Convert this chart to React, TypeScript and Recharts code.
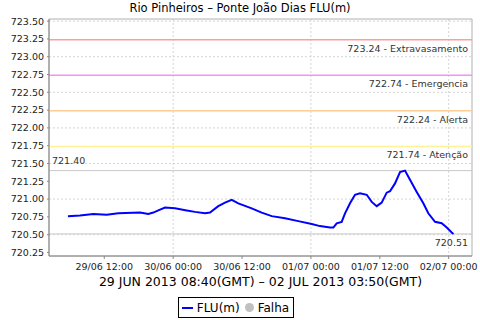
import { LineChart, Line, XAxis, YAxis, CartesianGrid, ReferenceLine, ReferenceArea, Legend } from "recharts";

// hours counted from 29/06 00:00 local time (GMT-3)
const hours = [
  5.67, 7.77, 10.09, 12.42, 14.44, 18.22, 19.67, 20.54, 21.41, 22.58, 24.32, 26.36, 27.81, 29.55, 30.42,
  31.86, 33.03, 34.2, 35.35, 37.68, 39.43, 41.17, 43.48, 45.8, 48.14, 49.58, 51.32, 51.9, 52.49, 53.36,
  53.94, 54.81, 55.68, 56.55, 57.72, 58.59, 59.46, 60.33, 61.2, 61.78, 62.65, 63.52, 64.39, 65.26, 66.43,
  67.58, 68.45, 69.62, 70.78, 71.66, 72.53, 72.83,
];
const levels = [
  720.76, 720.77, 720.79, 720.78, 720.8, 720.81, 720.79, 720.81, 720.84, 720.88, 720.87, 720.84, 720.82, 720.8, 720.81,
  720.9, 720.95, 720.99, 720.94, 720.87, 720.81, 720.76, 720.73, 720.69, 720.65, 720.62, 720.6, 720.6, 720.66, 720.68,
  720.8, 720.94, 721.06, 721.08, 721.06, 720.96, 720.9, 720.95, 721.09, 721.11, 721.22, 721.38, 721.4, 721.27, 721.1,
  720.94, 720.8, 720.68, 720.66, 720.6, 720.53, 720.51,
];

const xTicks = [12, 24, 36, 48, 60, 72];
const xTickLabels = ["29/06 12:00", "30/06 00:00", "30/06 12:00", "01/07 00:00", "01/07 12:00", "02/07 00:00"];
const yTicks = [720.25, 720.5, 720.75, 721, 721.25, 721.5, 721.75, 722, 722.25, 722.5, 722.75, 723, 723.25, 723.5];

const thresholdValues = [723.24, 722.74, 722.24, 721.74];
const thresholdNames = ["Extravasamento", "Emergencia", "Alerta", "Atenção"];
const thresholdColors = ["#ff9c9c", "#f294f2", "#ffcc94", "#fff294"];

const maxLevel = 721.4;
const lastLevel = 720.51;

const xDomain: [number, number] = [2.37, 76.06];
const yDomain: [number, number] = [720.2, 723.53];

const FONT = "'DejaVu Sans', sans-serif";

const data = hours.map((h, i) => ({ h, flu: levels[i] }));

function rightBelowLabel(text: string) {
  return (props: any) => {
    const vb = props.viewBox;
    return (
      <text x={vb.x + vb.width - 4} y={vb.y + 12} textAnchor="end" fontSize={9.5} fontFamily={FONT} fill="#333">
        {text}
      </text>
    );
  };
}

function LegendBox() {
  return (
    <div style={{ height: 24, display: "flex", justifyContent: "center", fontFamily: FONT, fontSize: 12 }}>
      <div
        style={{
          marginTop: 1,
          height: 21,
          boxSizing: "border-box",
          border: "1px solid #000",
          display: "flex",
          alignItems: "center",
          padding: "0 4px 0 3px",
          background: "#fff",
          color: "#000",
        }}
      >
        <span style={{ display: "inline-block", width: 11, height: 2, background: "#0000ff", marginRight: 4 }} />
        <span>FLU(m)</span>
        <span
          style={{ display: "inline-block", width: 9, height: 9, borderRadius: 5, background: "#c0c0c0", margin: "0 4px 0 5px" }}
        />
        <span>Falha</span>
      </div>
    </div>
  );
}

export default function App() {
  return (
    <div style={{ position: "absolute", left: 0, top: 0, width: 480, height: 320, background: "#fff" }}>
      <div
        style={{
          position: "absolute",
          left: 0,
          top: 0,
          width: 480,
          textAlign: "center",
          fontFamily: FONT,
          fontSize: 11.5,
          lineHeight: "17px",
          color: "#000",
        }}
      >
        Rio Pinheiros – Ponte João Dias FLU(m)
      </div>
      <LineChart width={480} height={320} data={data} margin={{ top: 19, right: 8, left: 0, bottom: 0 }}>
        <CartesianGrid stroke="#d4d4d4" strokeDasharray="2 2" horizontalValues={yTicks} verticalValues={xTicks} />
        <XAxis
          dataKey="h"
          type="number"
          domain={xDomain}
          ticks={xTicks}
          tickFormatter={(v: number) => xTickLabels[xTicks.indexOf(v)] ?? ""}
          allowDataOverflow
          height={40}
          stroke="#888"
          tickSize={3}
          tickMargin={4}
          tick={{ fontSize: 9.5, fontFamily: FONT, fill: "#222" }}
          label={(props: any) => {
            const vb = props.viewBox;
            return (
              <text x={vb.x + vb.width / 2} y={vb.y + 30} textAnchor="middle" fontSize={12.5} fontFamily={FONT} fill="#000">
                29 JUN 2013 08:40(GMT) – 02 JUL 2013 03:50(GMT)
              </text>
            );
          }}
        />
        <YAxis
          type="number"
          domain={yDomain}
          ticks={yTicks}
          allowDataOverflow
          width={49}
          stroke="#888"
          tickSize={2}
          tickMargin={3}
          tickFormatter={(v: number) => v.toFixed(2)}
          tick={{ fontSize: 9.5, fontFamily: FONT, fill: "#222" }}
        />
        <ReferenceArea x1={xDomain[0]} x2={xDomain[1]} y1={yDomain[0]} y2={yDomain[1]} fill="none" stroke="#b0b0b0" />
        {thresholdValues.map((v, i) => (
          <ReferenceLine
            key={v}
            y={v}
            stroke={thresholdColors[i]}
            strokeWidth={1.5}
            label={rightBelowLabel(`${v.toFixed(2)} - ${thresholdNames[i]}`)}
          />
        ))}
        <ReferenceLine
          y={maxLevel}
          stroke="#c8c8c8"
          label={(props: any) => {
            const vb = props.viewBox;
            return (
              <text x={vb.x + 3} y={vb.y - 7} fontSize={9.5} fontFamily={FONT} fill="#333">
                {maxLevel.toFixed(2)}
              </text>
            );
          }}
        />
        <ReferenceLine y={lastLevel} stroke="#c8c8c8" label={rightBelowLabel(lastLevel.toFixed(2))} />
        <Line
          dataKey="flu"
          name="FLU(m)"
          stroke="#0000ff"
          strokeWidth={2}
          dot={false}
          isAnimationActive={false}
        />
        <Legend verticalAlign="bottom" align="center" content={() => <LegendBox />} wrapperStyle={{ height: 24 }} />
      </LineChart>
    </div>
  );
}
